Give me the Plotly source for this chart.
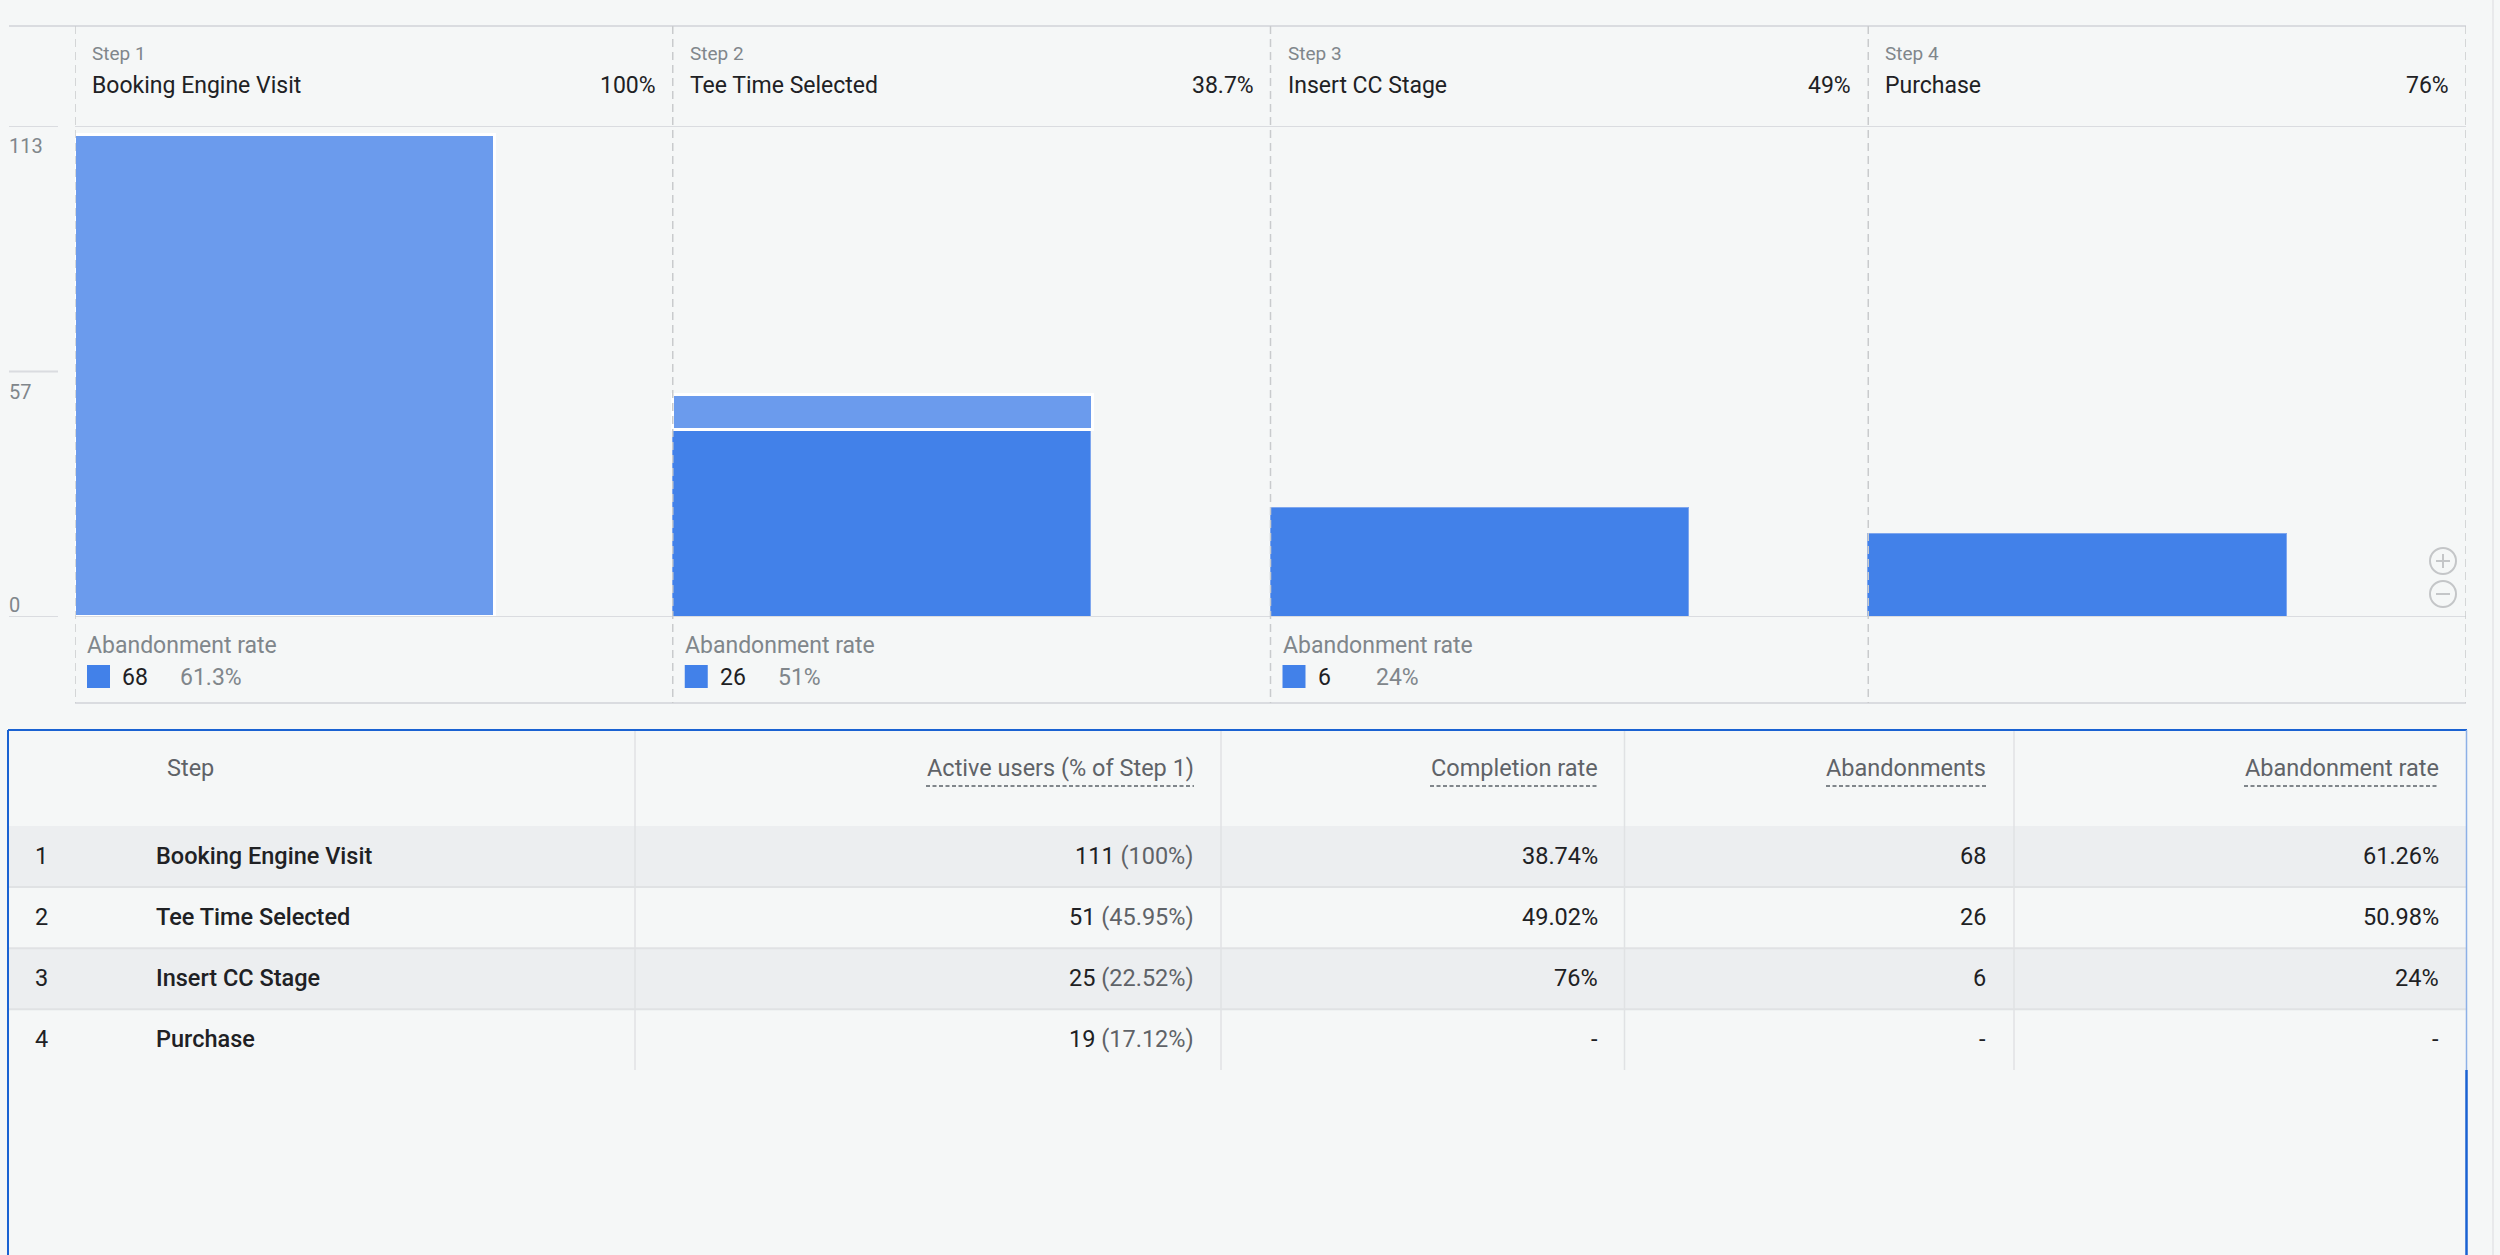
import plotly.graph_objects as go

W, H = 2500, 1255

# ---------------- data ----------------
step_labels = ["Step 1", "Step 2", "Step 3", "Step 4"]
step_names = ["Booking Engine Visit", "Tee Time Selected", "Insert CC Stage", "Purchase"]
header_rates = ["100%", "38.7%", "49%", "76%"]
users_continued = [0, 43, 25, 19]      # darker segment (came from previous step)
users_entered = [111, 8, 0, 0]         # lighter segment (entered at this step)
y_tick_vals = [0, 56.5, 113]
y_tick_text = ["0", "57", "113"]
abandon_counts = ["68", "26", "6"]
abandon_rates_short = ["61.3%", "51%", "24%"]

table_headers = ["Step", "Active users (% of Step 1)", "Completion rate", "Abandonments", "Abandonment rate"]
row_numbers = ["1", "2", "3", "4"]
active_users = ["111", "51", "25", "19"]
active_pct = ["100%", "45.95%", "22.52%", "17.12%"]
completion_rate = ["38.74%", "49.02%", "76%", "-"]
abandonments = ["68", "26", "6", "-"]
abandonment_rate = ["61.26%", "50.98%", "24%", "-"]

# ---------------- style ----------------
BG = "#f5f7f7"
DARK = "#4281e9"
LIGHT = "#6b9bed"
GRID = "#dadce0"
DASH_C = "#c9cbcd"
TXT = "#202124"
GRAY = "#80868b"
GRAY2 = "#5f6368"
BLUE = "#1a62d2"
FONT = "Roboto"


def px(x):
    return x / W


def py(y):
    return 1 - y / H


fig = go.Figure()
xs = list(range(len(step_names)))
fig.add_bar(x=xs, y=[v if v else None for v in users_continued], offset=0, width=0.7,
            marker=dict(color=DARK, line=dict(color="#7ea6ee", width=1)),
            hoverinfo="skip")
fig.add_bar(x=xs, y=[v if v else None for v in users_entered], offset=0, width=0.703,
            marker=dict(color=LIGHT, line=dict(color="white", width=3)),
            hoverinfo="skip")

shapes = []
ann = []

def hline(x0, x1, y, color=GRID, width=2, yref="paper", dash=None):
    yy = py(y) if yref == "paper" else y
    shapes.append(dict(type="line", xref="paper", yref=yref, x0=px(x0), x1=px(x1), y0=yy, y1=yy,
                       line=dict(color=color, width=width, dash=dash), layer="above"))

def vline(x, y0, y1, color=GRID, width=1.5, dash=None, xref="paper"):
    xx = px(x) if xref == "paper" else x
    shapes.append(dict(type="line", xref=xref, yref="paper", x0=xx, x1=xx, y0=py(y0), y1=py(y1),
                       line=dict(color=color, width=width, dash=dash), layer="above"))

# chart frame lines
hline(9, 2466, 26)
hline(75, 2466, 113, yref="y")
hline(75, 2466, 0, yref="y")
hline(75, 2466, 703)
for v in y_tick_vals:
    hline(9, 58, v, yref="y")
for i in range(len(step_names) + 1):
    vline(i, 26, 703, color=DASH_C, width=1.5, dash="8px,5px", xref="x")

# y tick labels
for v, t in zip(y_tick_vals, y_tick_text):
    ann.append(dict(xref="paper", yref="y", x=px(7), y=v, text=t, showarrow=False,
                    xanchor="left", yanchor="middle", yshift=(12 if v == 0 else -20),
                    font=dict(family=FONT, size=20, color=GRAY)))

# step headers
for i in xs:
    ann.append(dict(xref="x", yref="paper", x=i, y=py(53), xshift=15, text=step_labels[i],
                    showarrow=False, xanchor="left", yanchor="middle",
                    font=dict(family=FONT, size=19, color=GRAY)))
    ann.append(dict(xref="x", yref="paper", x=i, y=py(86), xshift=15, text=step_names[i],
                    showarrow=False, xanchor="left", yanchor="middle",
                    font=dict(family=FONT, size=23, color=TXT)))
    ann.append(dict(xref="x", yref="paper", x=i + 1, y=py(86), xshift=-15, text=header_rates[i],
                    showarrow=False, xanchor="right", yanchor="middle",
                    font=dict(family=FONT, size=23, color=TXT)))

# abandonment section
for i in range(len(abandon_counts)):
    ann.append(dict(xref="x", yref="paper", x=i, y=py(645), xshift=10, text="Abandonment rate",
                    showarrow=False, xanchor="left", yanchor="middle",
                    font=dict(family=FONT, size=23, color=GRAY)))
    shapes.append(dict(type="rect", xref="x", yref="paper", xsizemode="pixel", xanchor=i,
                       x0=12, x1=35, y0=py(665), y1=py(688), fillcolor=DARK,
                       line=dict(width=0), layer="above"))
    ann.append(dict(xref="x", yref="paper", x=i, y=py(677), xshift=45, text=abandon_counts[i],
                    showarrow=False, xanchor="left", yanchor="middle",
                    font=dict(family=FONT, size=23, color=TXT)))
    ann.append(dict(xref="x", yref="paper", x=i, y=py(677), xshift=103, text=abandon_rates_short[i],
                    showarrow=False, xanchor="left", yanchor="middle",
                    font=dict(family=FONT, size=23, color=GRAY)))

# zoom icons
for cy, sign in [(561, "+"), (594, "-")]:
    shapes.append(dict(type="circle", xref="paper", yref="paper", x0=px(2430), x1=px(2456),
                       y0=py(cy - 13), y1=py(cy + 13), line=dict(color="#c4c6c8", width=2),
                       layer="above"))
    hline(2436, 2450, cy, color="#c4c6c8", width=2)
    if sign == "+":
        vline(2443, cy - 7, cy + 7, color="#c4c6c8", width=2)

# ---------------- table ----------------
T_TOP, HDR_BOT, ROW_H, T_BOT = 730, 826, 61.1, 1070
COL_DIV = [635, 1221, 1624.5, 2014]
COL_RIGHT = [1196, 1600, 1988, 2441]
UNDERLINE_W = [267, 167, 159, 194]

for r in range(len(step_names)):
    y0 = HDR_BOT + r * ROW_H
    if r % 2 == 0:
        shapes.append(dict(type="rect", xref="paper", yref="paper", x0=px(9), x1=px(2466),
                           y0=py(y0), y1=py(y0 + ROW_H), fillcolor="#eceef0",
                           line=dict(width=0), layer="below"))
    if r > 0:
        hline(9, 2466, y0, color="#e0e2e4", width=2)
for xd in COL_DIV:
    vline(xd, T_TOP, T_BOT, color="#e0e2e4", width=1.5)

# card border
hline(8, 2467, T_TOP, color=BLUE, width=2)
vline(8, T_TOP, H + 5, color=BLUE, width=2)
vline(2466.5, T_TOP, T_BOT, color="#8db0e6", width=1.5)
vline(2466.5, T_BOT, H + 5, color=BLUE, width=2.5)
vline(2493, 0, H, color="#e3e5e7", width=1.5)

# header row
hdr_y = py(768)
ann.append(dict(xref="paper", yref="paper", x=px(165), y=hdr_y, text=table_headers[0],
                showarrow=False, xanchor="left", yanchor="middle",
                font=dict(family=FONT, size=23.5, color=GRAY2)))
for j in range(4):
    ann.append(dict(xref="paper", yref="paper", x=px(COL_RIGHT[j]), y=hdr_y, text=table_headers[j + 1],
                    showarrow=False, xanchor="right", yanchor="middle",
                    font=dict(family=FONT, size=23.5, color=GRAY2)))
    hline(COL_RIGHT[j] - 3 - UNDERLINE_W[j], COL_RIGHT[j] - 2, 786, color=GRAY, width=2,
          dash="4px,2.5px")

# body rows
cols = [None, None, completion_rate, abandonments, abandonment_rate]
for r in range(len(step_names)):
    yc = py(HDR_BOT + (r + 0.5) * ROW_H - 1)
    ann.append(dict(xref="paper", yref="paper", x=px(33), y=yc, text=row_numbers[r],
                    showarrow=False, xanchor="left", yanchor="middle",
                    font=dict(family=FONT, size=23.5, color=TXT)))
    ann.append(dict(xref="paper", yref="paper", x=px(154), y=yc, text=step_names[r],
                    showarrow=False, xanchor="left", yanchor="middle",
                    font=dict(family=FONT, size=23.5, color=TXT, weight=500)))
    ann.append(dict(xref="paper", yref="paper", x=px(COL_RIGHT[0]), y=yc,
                    text=f"{active_users[r]} <span style='color:{GRAY2}'>({active_pct[r]})</span>",
                    showarrow=False, xanchor="right", yanchor="middle",
                    font=dict(family=FONT, size=23.5, color=TXT)))
    for j in range(2, 5):
        ann.append(dict(xref="paper", yref="paper", x=px(COL_RIGHT[j - 1]), y=yc, text=cols[j][r],
                        showarrow=False, xanchor="right", yanchor="middle",
                        font=dict(family=FONT, size=23.5, color=TXT)))

fig.update_layout(
    width=W, height=H, margin=dict(l=0, r=0, t=0, b=0),
    paper_bgcolor=BG, plot_bgcolor=BG, barmode="stack", showlegend=False,
    bargap=0,
    xaxis=dict(domain=[px(75), px(2466)], range=[0, 4], visible=False, fixedrange=True),
    yaxis=dict(domain=[py(617), py(126)], range=[0, 113], visible=False, fixedrange=True),
    shapes=shapes, annotations=ann,
    font=dict(family=FONT),
)

fig.write_html("out.html", config={"displayModeBar": False})
